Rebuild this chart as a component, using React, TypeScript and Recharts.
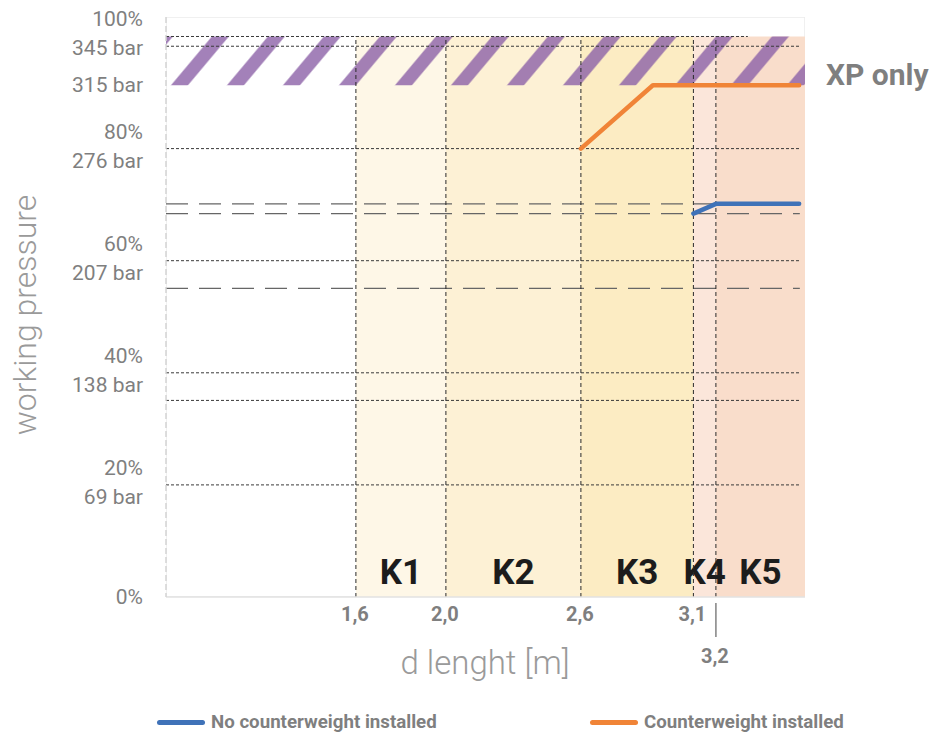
import React from 'react';
import { ComposedChart, Line, XAxis, YAxis, ReferenceArea, ReferenceLine } from 'recharts';

const xTicks = [1.6, 2.0, 2.6, 3.1, 3.2];
const xTickLabels = ['1,6', '2,0', '2,6', '3,1', '3,2'];
const yTicks = [0, 69, 138, 207, 276, 315, 345];
const yTickPercent = ['0%', '20%', '40%', '60%', '80%', '', '100%'];
const yTickBar = ['', '69 bar', '138 bar', '207 bar', '276 bar', '315 bar', '345 bar'];

const zoneStarts = [1.6, 2.0, 2.6, 3.1, 3.2];
const zoneEnds = [2.0, 2.6, 3.1, 3.2, 3.596];
const zoneNames = ['K1', 'K2', 'K3', 'K4', 'K5'];
const zoneColors = ['#FEF7E7', '#FDF1D5', '#FCECC3', '#FBE6DA', '#F9DDCB'];

const orangeX = [2.6, 2.92, 3.57];
const orangeY = [276, 315, 315];
const blueX = [3.1, 3.2, 3.57];
const blueY = [236, 242, 242];

const dottedLevels = [69, 121, 138, 207, 276, 339];
const dashedLevels = [190, 236, 242];
const xpMin = 315;
const xpMax = 345;

const xDomain = [0.756, 3.596];
const yDomain = [0, 357];
const lineEnd = 3.573;

const orangeData = orangeX.map((x, i) => ({ x, y: orangeY[i] }));
const blueData = blueX.map((x, i) => ({ x, y: blueY[i] }));

const GRAY = '#7f7f7f';
const FONT = 'Roboto, "Open Sans", sans-serif';

const YTick = (props: any) => {
  const { x, y, payload } = props;
  const i = yTicks.indexOf(payload.value);
  const pct = yTickPercent[i];
  const bar = yTickBar[i];
  const tx = x - 23;
  const style = { fontFamily: FONT, fontSize: 21, fill: GRAY };
  if (pct && bar) {
    return (
      <g>
        <text x={tx} y={y - 17} textAnchor="end" dominantBaseline="central" style={style}>{pct}</text>
        <text x={tx} y={y + 12} textAnchor="end" dominantBaseline="central" style={style}>{bar}</text>
      </g>
    );
  }
  return (
    <text x={tx} y={y} textAnchor="end" dominantBaseline="central" style={style}>{pct || bar}</text>
  );
};

const XTick = (props: any) => {
  const { x, y, payload } = props;
  const i = xTicks.indexOf(payload.value);
  const label = xTickLabels[i];
  const style = { fontFamily: FONT, fontSize: 20, fontWeight: 700, fill: GRAY };
  if (i === xTicks.length - 1) {
    return (
      <g>
        <line x1={x} x2={x} y1={y + 6} y2={y + 40} stroke="#8a8a8a" strokeWidth={1.6} />
        <text x={x - 1} y={y + 66} textAnchor="middle" style={style}>{label}</text>
      </g>
    );
  }
  return (
    <text x={x - 1} y={y + 24} textAnchor="middle" style={style}>{label}</text>
  );
};

const makeKLabel = (name: string) => (props: any) => {
  const vb = props.viewBox;
  const cx = vb.x + vb.width / 2;
  const by = vb.y + vb.height - 13;
  return (
    <text
      x={cx}
      y={by}
      textAnchor="middle"
      style={{ fontFamily: FONT, fontSize: 35, fontWeight: 700, fill: '#1c1c1c' }}
    >
      {name}
    </text>
  );
};

const XPLabel = (props: any) => {
  const vb = props.viewBox;
  return (
    <text
      x={vb.x + vb.width + 21}
      y={vb.y + 38}
      dominantBaseline="central"
      style={{ fontFamily: FONT, fontSize: 30, fontWeight: 700, fill: GRAY }}
    >
      XP only
    </text>
  );
};

const YTitle = (props: any) => {
  const vb = props.viewBox;
  const cx = 25;
  const cy = vb.y + vb.height / 2 + 8;
  return (
    <text
      x={cx}
      y={cy}
      transform={`rotate(-90 ${cx} ${cy})`}
      textAnchor="middle"
      dominantBaseline="central"
      style={{ fontFamily: FONT, fontSize: 32, fontWeight: 300, fill: '#9a9a9a' }}
    >
      working pressure
    </text>
  );
};

const XTitle = (props: any) => {
  const vb = props.viewBox;
  return (
    <text
      x={485}
      y={vb.y + 77}
      textAnchor="middle"
      style={{ fontFamily: FONT, fontSize: 33, fontWeight: 300, fill: '#9a9a9a' }}
    >
      d lenght [m]
    </text>
  );
};

const legendItems = [
  { name: 'No counterweight installed', color: '#3F72B8', left: 157 },
  { name: 'Counterweight installed', color: '#F08437', left: 590 },
];

export default function App() {
  return (
    <div style={{ position: 'absolute', left: 0, top: 0, width: 938, height: 735, background: '#fff' }}>
      <ComposedChart
        width={938}
        height={735}
        margin={{ top: 17, right: 133, bottom: 0, left: 0 }}
      >
        <defs>
          <pattern
            id="xpHatch"
            patternUnits="userSpaceOnUse"
            width={56}
            height={56}
            patternTransform="skewX(-40)"
          >
            <rect x={18.5} y={0} width={17} height={56} fill="#8c62a8" fillOpacity={0.8} />
          </pattern>
        </defs>
        <XAxis
          type="number"
          dataKey="x"
          domain={xDomain}
          ticks={xTicks}
          interval={0}
          allowDataOverflow
          height={138}
          tickLine={false}
          tickSize={0}
          tickMargin={0}
          axisLine={{ stroke: '#e2e2e2', strokeWidth: 1.5 }}
          tick={<XTick />}
          label={<XTitle />}
        />
        <YAxis
          type="number"
          dataKey="y"
          domain={yDomain}
          ticks={yTicks}
          interval={0}
          allowDataOverflow
          width={166}
          tickLine={false}
          tickSize={0}
          tickMargin={0}
          axisLine={{ stroke: '#d4d4d4', strokeWidth: 1.5, strokeDasharray: '6 3' }}
          tick={<YTick />}
          label={<YTitle />}
        />
        <ReferenceArea
          x1={xDomain[0]}
          x2={xDomain[1]}
          y1={yDomain[0]}
          y2={yDomain[1]}
          fill="none"
          stroke="#ececec"
          strokeWidth={1.5}
          ifOverflow="hidden"
        />
        {zoneNames.map((name, i) => (
          <ReferenceArea
            key={name}
            x1={zoneStarts[i]}
            x2={zoneEnds[i]}
            y1={0}
            y2={xpMax}
            fill={zoneColors[i]}
            fillOpacity={1}
            stroke="none"
          />
        ))}
        <ReferenceArea
          x1={xDomain[0]}
          x2={xDomain[1]}
          y1={xpMin}
          y2={xpMax}
          fill="url(#xpHatch)"
          fillOpacity={1}
          stroke="none"
          label={<XPLabel />}
        />
        {dottedLevels.map((v) => (
          <ReferenceLine
            key={'d' + v}
            segment={[{ x: xDomain[0], y: v }, { x: lineEnd, y: v }]}
            stroke="#3a3a3a"
            strokeWidth={1}
            strokeDasharray="3 2"
          />
        ))}
        <ReferenceLine
          segment={[{ x: xDomain[0], y: xpMax }, { x: 3.342, y: xpMax }]}
          stroke="#3a3a3a"
          strokeWidth={1}
          strokeDasharray="3 2"
        />
        {dashedLevels.map((v) => (
          <ReferenceLine
            key={'l' + v}
            segment={[{ x: xDomain[0], y: v }, { x: lineEnd, y: v }]}
            stroke="#666"
            strokeWidth={1.3}
            strokeDasharray="22 11"
          />
        ))}
        {xTicks.map((v) => (
          <ReferenceLine
            key={'v' + v}
            segment={[{ x: v, y: 0 }, { x: v, y: xpMax }]}
            stroke="#2a2a2a"
            strokeWidth={1}
            strokeDasharray="4 3"
          />
        ))}
        {zoneNames.map((name, i) => (
          <ReferenceArea
            key={'lab' + name}
            x1={zoneStarts[i]}
            x2={zoneEnds[i]}
            y1={0}
            y2={xpMax}
            fill="none"
            fillOpacity={0}
            stroke="none"
            label={makeKLabel(name)}
          />
        ))}
        <Line
          data={orangeData}
          dataKey="y"
          type="linear"
          stroke="#F08437"
          strokeWidth={4.5}
          strokeLinecap="round"
          strokeLinejoin="round"
          dot={false}
          activeDot={false}
          isAnimationActive={false}
        />
        <Line
          data={blueData}
          dataKey="y"
          type="linear"
          stroke="#3F72B8"
          strokeWidth={4.5}
          strokeLinecap="round"
          strokeLinejoin="round"
          dot={false}
          activeDot={false}
          isAnimationActive={false}
        />
      </ComposedChart>
      {legendItems.map((it) => (
        <div
          key={it.name}
          style={{
            position: 'absolute',
            left: it.left,
            top: 710,
            height: 24,
            display: 'flex',
            alignItems: 'center',
            fontFamily: FONT,
            fontWeight: 700,
            fontSize: 18.7,
            color: GRAY,
            whiteSpace: 'nowrap',
          }}
        >
          <span
            style={{
              display: 'inline-block',
              width: 48,
              height: 5,
              borderRadius: 3,
              background: it.color,
              marginRight: 6,
            }}
          />
          {it.name}
        </div>
      ))}
    </div>
  );
}
